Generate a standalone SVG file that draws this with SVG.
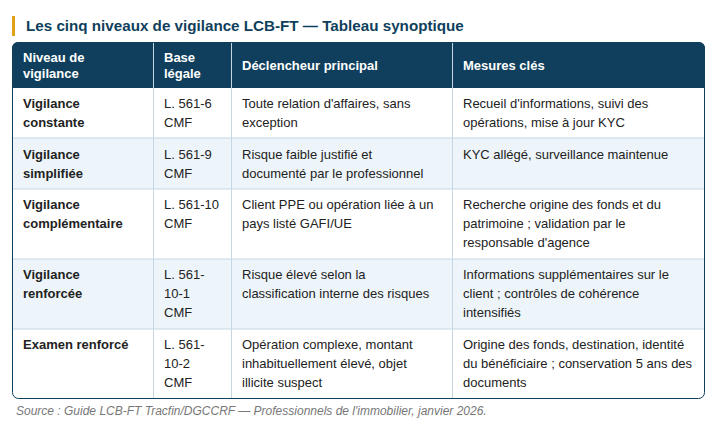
<svg xmlns="http://www.w3.org/2000/svg" width="718" height="433" viewBox="0 0 718 433">
<style>
text{font-family:"Liberation Sans",Arial,sans-serif;font-size:13px;fill:#222}
.h{fill:#fff;font-weight:bold}
.b{font-weight:bold}
.t{font-size:15.2px;font-weight:bold;fill:#0f3f5c}
.s{font-size:12px;font-style:italic;fill:#777}
.g{stroke:#c5d7e3;stroke-width:1}
</style>
<rect width="718" height="433" fill="#fff"/>
<rect x="12" y="16" width="3" height="20" fill="#e3a019"/>
<text class="t" x="26" y="31">Les cinq niveaux de vigilance LCB-FT — Tableau synoptique</text>
<defs><clipPath id="c"><rect x="12" y="42" width="693" height="357" rx="6"/></clipPath></defs>
<g clip-path="url(#c)">
<rect x="12" y="42" width="693" height="46" fill="#0f3f5c"/>
<rect x="12" y="88" width="693" height="50" fill="#fff"/>
<rect x="12" y="138" width="693" height="51" fill="#eef5fa"/>
<rect x="12" y="189" width="693" height="70" fill="#fff"/>
<rect x="12" y="259" width="693" height="70" fill="#eef5fa"/>
<rect x="12" y="329" width="693" height="70" fill="#fff"/>
</g>
<g id="grid">
<line class="g" x1="12" y1="138" x2="705" y2="138"/>
<line class="g" x1="12" y1="189" x2="705" y2="189"/>
<line class="g" x1="12" y1="259" x2="705" y2="259"/>
<line class="g" x1="12" y1="329" x2="705" y2="329"/>
<line class="g" x1="153.5" y1="42" x2="153.5" y2="399"/>
<line class="g" x1="231.5" y1="42" x2="231.5" y2="399"/>
<line class="g" x1="452.5" y1="42" x2="452.5" y2="399"/>
<rect x="12.5" y="42.5" width="692" height="356" rx="6" fill="none" stroke="#0f3f5c" stroke-width="1"/>
</g>
<g id="header">
<text class="h" x="23" y="62">Niveau de</text><text class="h" x="23" y="78">vigilance</text>
<text class="h" x="164" y="62">Base</text><text class="h" x="164" y="78">légale</text>
<text class="h" x="242" y="70">Déclencheur principal</text>
<text class="h" x="463" y="70">Mesures clés</text>
</g>
<g id="row1">
<text class="b" x="23" y="108">Vigilance</text><text class="b" x="23" y="127">constante</text>
<text x="164" y="108">L. 561-6</text><text x="164" y="127">CMF</text>
<text x="242" y="108">Toute relation d'affaires, sans</text><text x="242" y="127">exception</text>
<text x="463" y="108">Recueil d'informations, suivi des</text><text x="463" y="127">opérations, mise à jour KYC</text>
</g>
<g id="row2">
<text class="b" x="23" y="159">Vigilance</text><text class="b" x="23" y="178">simplifiée</text>
<text x="164" y="159">L. 561-9</text><text x="164" y="178">CMF</text>
<text x="242" y="159">Risque faible justifié et</text><text x="242" y="178">documenté par le professionnel</text>
<text x="463" y="159">KYC allégé, surveillance maintenue</text>
</g>
<g id="row3">
<text class="b" x="23" y="209">Vigilance</text><text class="b" x="23" y="228">complémentaire</text>
<text x="164" y="209">L. 561-10</text><text x="164" y="228">CMF</text>
<text x="242" y="209">Client PPE ou opération liée à un</text><text x="242" y="228">pays listé GAFI/UE</text>
<text x="463" y="209">Recherche origine des fonds et du</text><text x="463" y="228">patrimoine ; validation par le</text><text x="463" y="247">responsable d'agence</text>
</g>
<g id="row4">
<text class="b" x="23" y="279">Vigilance</text><text class="b" x="23" y="298">renforcée</text>
<text x="164" y="279">L. 561-</text><text x="164" y="298">10-1</text><text x="164" y="317">CMF</text>
<text x="242" y="279">Risque élevé selon la</text><text x="242" y="298">classification interne des risques</text>
<text x="463" y="279">Informations supplémentaires sur le</text><text x="463" y="298">client ; contrôles de cohérence</text><text x="463" y="317">intensifiés</text>
</g>
<g id="row5">
<text class="b" x="23" y="349">Examen renforcé</text>
<text x="164" y="349">L. 561-</text><text x="164" y="368">10-2</text><text x="164" y="387">CMF</text>
<text x="242" y="349">Opération complexe, montant</text><text x="242" y="368">inhabituellement élevé, objet</text><text x="242" y="387">illicite suspect</text>
<text x="463" y="349">Origine des fonds, destination, identité</text><text x="463" y="368">du bénéficiaire ; conservation 5 ans des</text><text x="463" y="387">documents</text>
</g>
<text class="s" x="16" y="415">Source : Guide LCB-FT Tracfin/DGCCRF — Professionnels de l'immobilier, janvier 2026.</text>
</svg>
